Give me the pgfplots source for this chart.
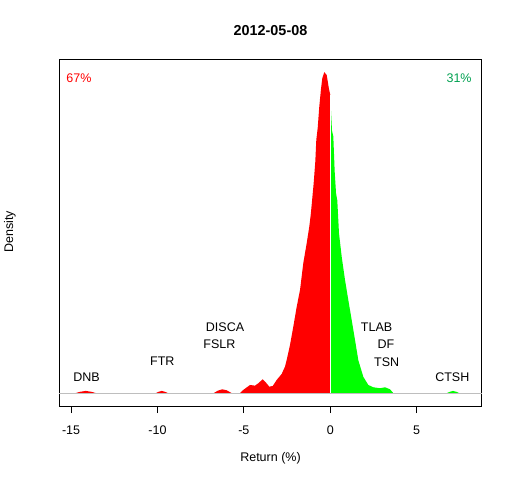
\documentclass[border=0pt]{standalone}
\usepackage{fontspec}
\setmainfont{Liberation Sans}
\usepackage{pgfplots}
\pgfplotsset{compat=1.18}
\definecolor{rgreen}{RGB}{0,255,0}
\definecolor{pctgreen}{RGB}{0,160,80}
\definecolor{rgray}{RGB}{190,190,190}
\begin{document}
\begin{tikzpicture}
\path[use as bounding box] (0,0) rectangle (512pt,480pt);
\begin{axis}[
  at={(59.3pt,74pt)}, anchor=south west,
  scale only axis, width=422.4pt, height=346.7pt,
  xmin=-15.68, xmax=8.76, ymin=-0.04, ymax=1.04,
  ytick=\empty, xtick={-15,-10,-5,0,5},
  tick align=outside, major tick length=7pt, xtick pos=bottom,
  axis line style={line width=0.8pt}, every tick/.style={line width=0.8pt, black},
  /pgf/number format/assume math mode=true,
  xticklabel style={font=\fontsize{12.5}{14}\selectfont, yshift=-9pt},
  clip=false,
  font=\fontsize{12.5}{14}\selectfont,
]
% left (negative) part
\addplot[fill=red, draw=none] coordinates {
(-14.75,0)(-14.5,0.004)(-14.15,0.007)(-13.8,0.004)(-13.55,0)
} \closedcycle;
\addplot[fill=red, draw=none] coordinates {
(-10.1,0)(-9.95,0.004)(-9.75,0.007)(-9.55,0.004)(-9.4,0)
} \closedcycle;
\addplot[fill=red, draw=none] coordinates {
(-6.75,0)(-6.5,0.008)(-6.25,0.012)(-6.0,0.009)(-5.7,0)
} \closedcycle;
\addplot[fill=red, draw=none] coordinates {
(-5.225,0)(-5.035,0.010)(-4.647,0.0255)(-4.358,0.0234)(-4.167,0.0308)
(-3.912,0.0433)(-3.721,0.0327)(-3.530,0.0202)(-3.333,0.0224)(-3.102,0.0411)
(-2.813,0.0598)(-2.622,0.0826)(-2.523,0.1034)(-2.332,0.150)(-2.141,0.207)
(-1.944,0.269)(-1.753,0.321)(-1.5625,0.405)(-1.366,0.467)(-1.215,0.519)
(-1.134,0.555)(-1.059,0.597)(-0.961,0.655)(-0.868,0.721)(-0.810,0.789)
(-0.729,0.826)(-0.637,0.893)(-0.538,0.948)(-0.463,0.981)(-0.347,1.0)
(-0.208,0.991)(-0.075,0.947)(0,0.929)(0,0)
} \closedcycle;
% right (positive) part
\addplot[fill=rgreen, draw=none] coordinates {
(0,0)(0,0.88)(0.04,0.880)(0.098,0.818)(0.174,0.800)(0.254,0.690)(0.33,0.624)
(0.405,0.600)(0.503,0.498)(0.660,0.425)(0.851,0.353)(1.042,0.290)
(1.238,0.228)(1.429,0.166)(1.620,0.103)(1.910,0.051)(2.199,0.0255)
(2.488,0.0184)(2.876,0.0153)(3.166,0.0184)(3.455,0.012)(3.646,0)
} \closedcycle;
\addplot[fill=rgreen, draw=none] coordinates {
(6.74,0)(6.9,0.004)(7.1,0.007)(7.3,0.004)(7.47,0)
} \closedcycle;
\addplot[white, line width=1.2pt] coordinates {(0,0)(0,0.929)};
\addplot[rgray, line width=0.8pt] coordinates {(-15.68,0)(8.76,0)};
% labels
\node at (axis cs:-14.1,0.050) {DNB};
\node at (axis cs:-9.72,0.098) {FTR};
\node at (axis cs:-6.42,0.152) {FSLR};
\node at (axis cs:-6.09,0.205) {DISCA};
\node at (axis cs:2.68,0.205) {TLAB};
\node at (axis cs:3.22,0.152) {DF};
\node at (axis cs:3.26,0.098) {TSN};
\node at (axis cs:7.06,0.050) {CTSH};
\node[text=red] at (axis cs:-14.54,0.982) {67\%};
\node[text=pctgreen] at (axis cs:7.45,0.982) {31\%};
\node[font=\fontsize{14.4}{16}\selectfont\bfseries] at (rel axis cs:0.5,1.083) {2012-05-08};
\node at (rel axis cs:0.5,-0.15) {Return (\%)};
\node[rotate=90] at (rel axis cs:-0.1167,0.502) {Density};
\end{axis}
\end{tikzpicture}
\end{document}
